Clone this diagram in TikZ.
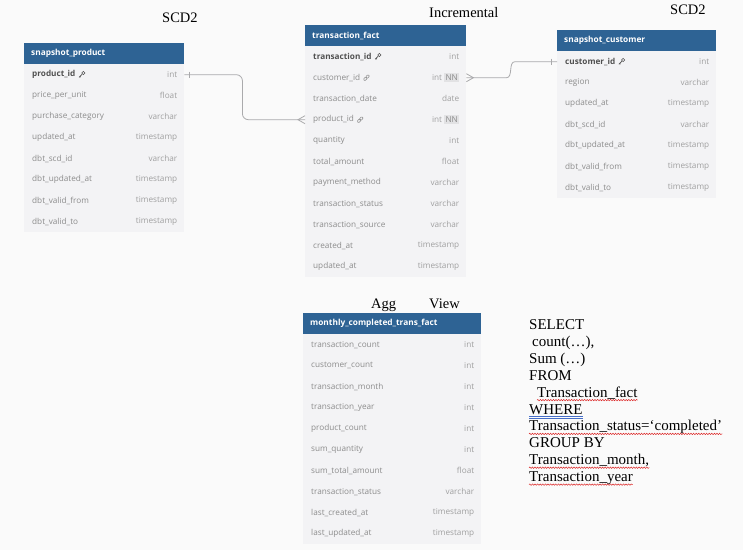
\documentclass[tikz,border=0pt]{standalone}
\usepackage{fontspec}
\setmainfont{Liberation Serif}
\newfontfamily\osans{Open Sans}
\usetikzlibrary{calc,decorations.pathmorphing}
\definecolor{hdrblue}{RGB}{46,99,148}
\definecolor{bodybg}{RGB}{243,243,245}
\definecolor{pagebg}{RGB}{250,250,250}
\definecolor{keytxt}{RGB}{80,80,80}
\definecolor{normtxt}{RGB}{140,140,140}
\definecolor{typetxt}{RGB}{160,160,160}
\definecolor{nnbg}{RGB}{226,226,228}
\definecolor{connc}{RGB}{170,170,172}
\definecolor{spellred}{RGB}{220,40,40}
\definecolor{gramblue}{RGB}{70,110,200}
\newcommand\nnb{{\setlength{\fboxsep}{1.3pt}\colorbox{nnbg}{\textcolor{normtxt}{NN}}}}
\tikzset{
  hdrbox/.style={fill=hdrblue, draw=none, minimum height=21pt, inner sep=0pt},
  hdrtxt/.style={inner sep=0pt, text=white, font=\osans\bfseries\fontsize{8.3}{10}\selectfont},
  rowbox/.style={fill=bodybg, draw=none, minimum height=21pt, inner sep=0pt},
  keyrow/.style={inner sep=0pt, text=keytxt, font=\osans\bfseries\fontsize{8.2}{10}\selectfont},
  normrow/.style={inner sep=0pt, text=normtxt, font=\osans\fontsize{8.2}{10}\selectfont},
  typetxt/.style={inner sep=0pt, text=typetxt, font=\osans\fontsize{8.2}{10}\selectfont},
  conn/.style={draw=connc, line width=0.8pt},
  lbl/.style={inner sep=0pt, anchor=base west, font=\fontsize{14.5}{17}\selectfont},
  sql/.style={inner sep=0pt, anchor=base west, font=\fontsize{15}{17}\selectfont},
  spell/.style={draw=spellred, line width=0.5pt, decorate, decoration={snake, amplitude=0.7pt, segment length=2.6pt}},
  keyicon/.pic={
    \draw[line width=0.6pt, draw=keytxt] (1.7,-1.7) circle (1.6pt);
    \draw[line width=0.6pt, draw=keytxt] (0.5,-0.5) -- (-2.6,2.6) (-1.7,1.7) -- (-0.9,2.5);
  },
  linkicon/.pic={
    \draw[line width=0.55pt, draw=normtxt, rotate=45, rounded corners=1pt] (-3.4,-1.2) rectangle (0.4,1.2);
    \draw[line width=0.55pt, draw=normtxt, rotate=45, rounded corners=1pt] (-0.4,-1.2) rectangle (3.4,1.2);
  }
}
\newcommand\dbtable[6]{%
  \node[hdrbox, minimum width=#4pt, anchor=north west] (#1-h) at (#2,#3) {};
  \node[hdrtxt, anchor=west] (#1-title) at ($(#1-h.west)+(7,0)$) {#5};
  \foreach \nm/\ty/\st [count=\i] in {#6} {%
    \node[rowbox, minimum width=#4pt, anchor=north west] (#1-\i) at ($(#2,#3)+(0,{21*\i})$) {};
    \node[\st, anchor=west] (#1-\i-n) at ($(#1-\i.west)+(8,0)$) {\nm};
    \node[typetxt, anchor=east] (#1-\i-t) at ($(#1-\i.east)+(-7,0)$) {\ty};
  }%
}
\begin{document}
\begin{tikzpicture}[x=1pt,y=-1pt]
\useasboundingbox (0,0) rectangle (743,550);
\fill[pagebg] (0,0) rectangle (743,550);

% tables
\dbtable{prod}{24}{43}{160}{snapshot\_product}{%
  product\_id/int/keyrow,
  price\_per\_unit/float/normrow,
  purchase\_category/varchar/normrow,
  updated\_at/timestamp/normrow,
  dbt\_scd\_id/varchar/normrow,
  dbt\_updated\_at/timestamp/normrow,
  dbt\_valid\_from/timestamp/normrow,
  dbt\_valid\_to/timestamp/normrow}
\dbtable{tf}{305}{25}{161}{transaction\_fact}{%
  transaction\_id/int/keyrow,
  customer\_id/{int \nnb}/normrow,
  transaction\_date/date/normrow,
  product\_id/{int \nnb}/normrow,
  quantity/int/normrow,
  total\_amount/float/normrow,
  payment\_method/varchar/normrow,
  transaction\_status/varchar/normrow,
  transaction\_source/varchar/normrow,
  created\_at/timestamp/normrow,
  updated\_at/timestamp/normrow}
\dbtable{cust}{557}{30}{159}{snapshot\_customer}{%
  customer\_id/int/keyrow,
  region/varchar/normrow,
  updated\_at/timestamp/normrow,
  dbt\_scd\_id/varchar/normrow,
  dbt\_updated\_at/timestamp/normrow,
  dbt\_valid\_from/timestamp/normrow,
  dbt\_valid\_to/timestamp/normrow}
\dbtable{mon}{303}{313}{178}{monthly\_completed\_trans\_fact}{%
  transaction\_count/int/normrow,
  customer\_count/int/normrow,
  transaction\_month/int/normrow,
  transaction\_year/int/normrow,
  product\_count/int/normrow,
  sum\_quantity/int/normrow,
  sum\_total\_amount/float/normrow,
  transaction\_status/varchar/normrow,
  last\_created\_at/timestamp/normrow,
  last\_updated\_at/timestamp/normrow}

% icons
\pic at ($(prod-1-n.east)+(6,0)$) {keyicon};
\pic at ($(tf-1-n.east)+(6,0)$) {keyicon};
\pic at ($(cust-1-n.east)+(6,0)$) {keyicon};
\pic at ($(tf-2-n.east)+(6,0)$) {linkicon};
\pic at ($(tf-4-n.east)+(6,0)$) {linkicon};

% connectors
\draw[conn, rounded corners=6pt] (prod-1.east) -- ++(58,0) |- (tf-4.west);
\draw[conn] ($(prod-1.east)+(5,-3)$) -- ++(0,6);
\draw[conn] ($(tf-4.west)+(0,-4)$) -- ($(tf-4.west)+(-7,0)$) -- ($(tf-4.west)+(0,4)$);

\draw[conn] (tf-2.east) -- ++(40,0) .. controls +(7,0) and +(-7,0) .. ($(cust-1.west)+(-42,0)$) -- (cust-1.west);
\draw[conn] ($(tf-2.east)+(0,-4)$) -- ($(tf-2.east)+(7,0)$) -- ($(tf-2.east)+(0,4)$);
\draw[conn] ($(cust-1.west)+(-6,-3)$) -- ++(0,6);

% labels
\node[lbl] (l1) at (162,22) {SCD2};
\node[lbl] (l2) at (429,17.5) {Incremental};
\node[lbl] (l3) at (670,14) {SCD2};
\node[lbl] (l4) at (371,308) {Agg};
\node[lbl] (l5) at (429,308) {View};

% SQL
\node[sql] (s1) at (529,329.5) {SELECT};
\node[sql] (s2) at (532,346.4) {count(…),};
\node[sql] (s3) at (529,363.3) {Sum (…)};
\node[sql] (s4) at (529,380.2) {FROM};
\node[sql] (s5) at (537,397.1) {Transaction\_fact};
\node[sql] (s6) at (529,414) {WHERE};
\node[sql] (s7) at (529,430.9) {Transaction\_status=‘completed’};
\node[sql] (s8) at (529,447.8) {GROUP BY};
\node[sql] (s9) at (529,464.7) {Transaction\_month,};
\node[sql] (s10) at (529,481.6) {Transaction\_year};

\draw[spell] ($(s5.base west)+(0,3)$) -- ($(s5.base east)+(0,3)$);
\draw[spell] ($(s7.base west)+(0,3)$) -- ($(s7.base east)+(0,3)$);
\draw[spell] ($(s9.base west)+(0,3)$) -- ($(s9.base east)+(0,3)$);
\draw[spell] ($(s10.base west)+(0,3)$) -- ($(s10.base east)+(0,3)$);
\draw[draw=gramblue, line width=0.5pt] ($(s6.base west)+(0,2.2)$) -- ($(s6.base east)+(0,2.2)$)
  ($(s6.base west)+(0,3.8)$) -- ($(s6.base east)+(0,3.8)$);
\end{tikzpicture}
\end{document}
